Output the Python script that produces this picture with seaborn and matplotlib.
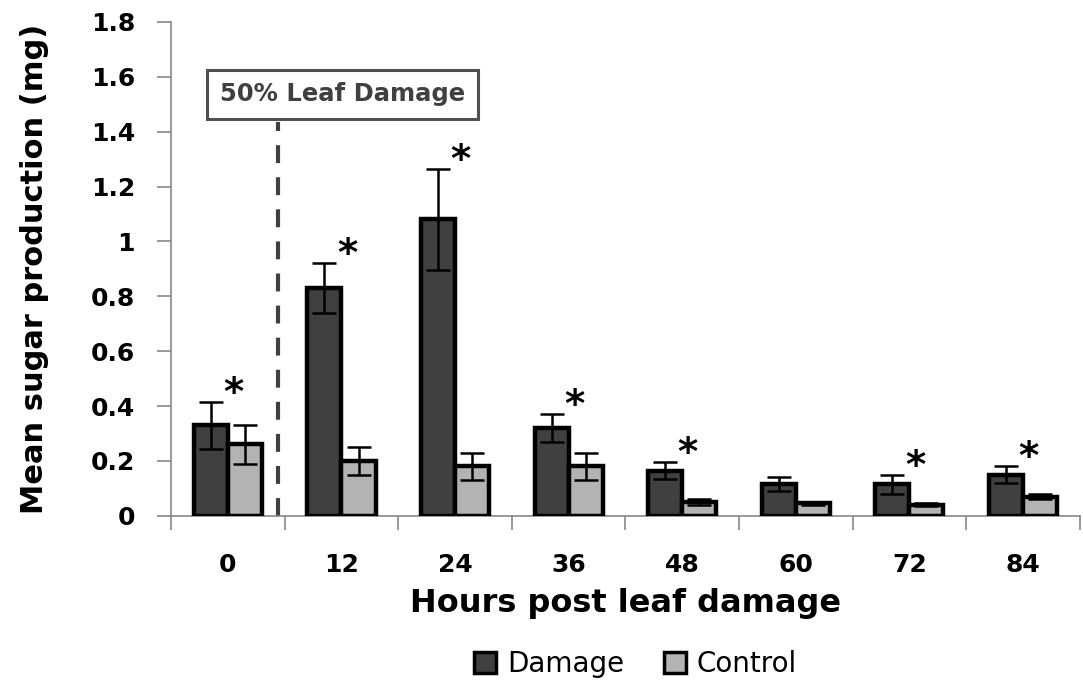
import matplotlib
matplotlib.use("Agg")
import matplotlib.pyplot as plt
import seaborn as sns
import pandas as pd
import numpy as np
from matplotlib.patches import Patch

hours = ["0", "12", "24", "36", "48", "60", "72", "84"]
damage_mean = [0.33, 0.83, 1.08, 0.32, 0.165, 0.115, 0.115, 0.15]
damage_err = [0.085, 0.09, 0.185, 0.05, 0.03, 0.025, 0.035, 0.03]
control_mean = [0.26, 0.20, 0.18, 0.18, 0.05, 0.045, 0.04, 0.07]
control_err = [0.07, 0.05, 0.05, 0.05, 0.01, 0.005, 0.005, 0.01]
significant = [True, True, True, True, True, False, True, True]
groups = ["Damage", "Control"]
colors = ["#404040", "#b3b3b3"]

sns.set_theme(style="white")
plt.rcParams["font.family"] = ["DejaVu Sans"]

df = pd.DataFrame({
    "Hours": hours * 2,
    "Value": damage_mean + control_mean,
    "Group": [groups[0]] * len(hours) + [groups[1]] * len(hours),
})

fig = plt.figure(figsize=(10.83, 6.85), dpi=100)
ax = fig.add_axes([0.158, 0.247, 0.839, 0.721])

sns.barplot(data=df, x="Hours", y="Value", hue="Group", order=hours,
            hue_order=groups, palette=colors, width=0.6, errorbar=None,
            edgecolor="black", linewidth=3.2, ax=ax, legend=False, zorder=3)

errs = [damage_err, control_err]
means = [damage_mean, control_mean]
bar_containers = list(ax.containers)
for ci, cont in enumerate(bar_containers):
    xs = [p.get_x() + p.get_width() / 2 for p in cont.patches]
    ax.errorbar(xs, means[ci], yerr=errs[ci], fmt="none", ecolor="black",
                elinewidth=1.8, capsize=8.5, capthick=1.8, zorder=4)

for i, sig in enumerate(significant):
    if sig:
        top = max(damage_mean[i] + damage_err[i], control_mean[i] + control_err[i])
        ax.text(i + 0.05, top - 0.04, "*", ha="center", va="bottom",
                fontsize=28, fontweight="bold", color="black")

# dashed line marking damage
ax.plot([0.44, 0.44], [0, 1.436], ls=(0, (4.3, 3.4)), color="#404040", lw=3, zorder=2)
ax.text(1.01, 1.536, "50% Leaf Damage", ha="center", va="center",
        fontsize=17.5, fontweight="bold", color="#404040", zorder=5,
        bbox=dict(boxstyle="square,pad=0.52", fc="white", ec="#505050", lw=2.2))

ax.set_ylim(0, 1.8)
ax.set_xlim(-0.5, 7.5)
ax.set_yticks(np.arange(0, 1.81, 0.2))
ax.set_yticklabels(["0", "0.2", "0.4", "0.6", "0.8", "1", "1.2", "1.4", "1.6", "1.8"])
ax.set_xticks(range(len(hours)))
ax.set_xticklabels(hours)
ax.set_xticks(np.arange(-0.5, 7.6, 1), minor=True)
ax.tick_params(axis="x", which="major", length=0, pad=27, labelsize=18, labelcolor="black")
ax.tick_params(axis="x", which="minor", length=10, width=1.2, color="#888888", direction="out", bottom=True)
ax.tick_params(axis="y", which="major", length=10, width=1.2, color="#888888", direction="out", left=True, labelsize=18, pad=16, labelcolor="black")
for lab in ax.get_xticklabels() + ax.get_yticklabels():
    lab.set_fontweight("bold")

for s in ["top", "right"]:
    ax.spines[s].set_visible(False)
for s in ["left", "bottom"]:
    ax.spines[s].set_color("#888888")
    ax.spines[s].set_linewidth(1.2)

ax.set_ylabel("Mean sugar production (mg)", fontsize=22, fontweight="bold", labelpad=30, color="black")
ax.set_xlabel("Hours post leaf damage", fontsize=23, fontweight="bold", labelpad=8, color="black")

handles = [Patch(facecolor=c, edgecolor="black", linewidth=2.5) for c in colors]
fig.legend(handles, groups, loc="center", bbox_to_anchor=(0.587, 0.03), ncol=2,
           frameon=False, fontsize=20, handlelength=0.8, handleheight=0.8,
           handletextpad=0.4, columnspacing=1.4, labelcolor="black")

fig.savefig("out.png", dpi=100)
